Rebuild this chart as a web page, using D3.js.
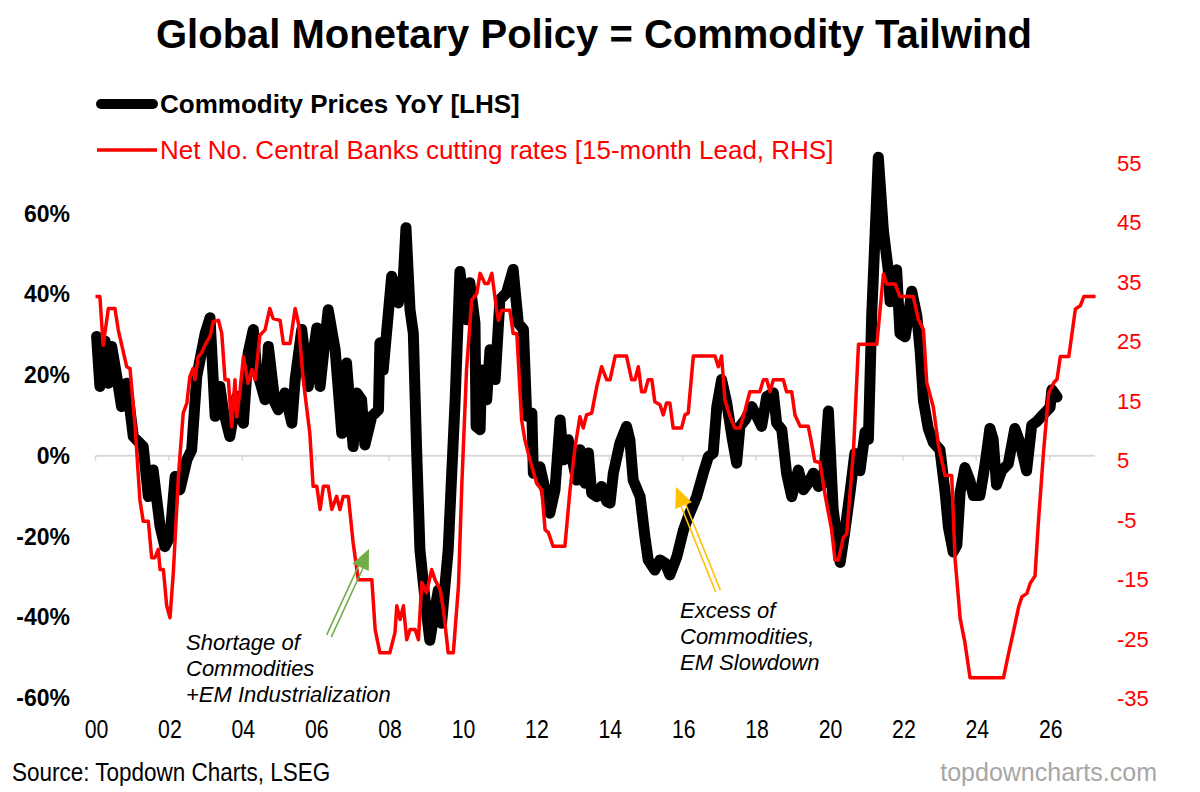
<!DOCTYPE html>
<html>
<head>
<meta charset="utf-8">
<script src="https://cdn.jsdelivr.net/npm/d3@7"></script>
<style>
  body { margin: 0; background: #fff; }
  svg text { font-family: "Liberation Sans", Arial, sans-serif; }
</style>
</head>
<body>
<svg id="chart" width="1200" height="792"></svg>
<script>
// Commodity prices YoY (%)
const blackYears = [2000.03,2000.12,2000.26,2000.35,2000.44,2000.58,2000.71,2000.85,2001.03,2001.30,2001.44,2001.57,2001.76,2001.89,2002.03,2002.17,2002.30,2002.49,2002.62,2002.76,2002.99,2003.12,2003.26,2003.39,2003.48,2003.66,2003.85,2004.03,2004.16,2004.30,2004.39,2004.62,2004.71,2004.89,2004.98,2005.16,2005.35,2005.44,2005.62,2005.80,2006.03,2006.12,2006.34,2006.53,2006.71,2006.84,2007.02,2007.12,2007.25,2007.34,2007.53,2007.71,2007.75,2007.84,2008.07,2008.25,2008.39,2008.46,2008.57,2008.66,2008.75,2008.84,2008.98,2009.11,2009.20,2009.34,2009.43,2009.61,2009.80,2009.93,2010.02,2010.11,2010.20,2010.34,2010.37,2010.48,2010.52,2010.66,2010.75,2010.89,2011.02,2011.20,2011.38,2011.52,2011.66,2011.75,2011.89,2011.93,2012.11,2012.25,2012.38,2012.52,2012.66,2012.75,2012.88,2013.11,2013.20,2013.34,2013.43,2013.52,2013.66,2013.79,2013.93,2014.02,2014.11,2014.29,2014.47,2014.56,2014.65,2014.84,2014.97,2015.06,2015.24,2015.38,2015.52,2015.65,2015.84,2016.02,2016.15,2016.38,2016.56,2016.70,2016.83,2016.93,2017.06,2017.20,2017.34,2017.47,2017.56,2017.70,2017.88,2018.02,2018.15,2018.29,2018.47,2018.56,2018.70,2018.83,2018.97,2019.15,2019.29,2019.42,2019.56,2019.70,2019.83,2019.97,2020.10,2020.29,2020.42,2020.56,2020.69,2020.83,2020.97,2021.06,2021.15,2021.33,2021.47,2021.60,2021.65,2021.83,2021.92,2022.06,2022.15,2022.24,2022.38,2022.47,2022.56,2022.69,2022.83,2023.01,2023.15,2023.24,2023.37,2023.47,2023.56,2023.69,2023.83,2023.92,2024.10,2024.24,2024.37,2024.46,2024.55,2024.69,2024.87,2025.05,2025.19,2025.37,2025.51,2025.65,2025.83,2026.01,2026.06,2026.20];
const blackValues = [29.6,17.2,28.4,18,27.1,19.7,12.2,18,4.8,2.3,-10.1,-3.5,-17.5,-22.5,-20,-5.1,-8.4,-1,1.5,19.7,30.4,34.2,9.8,17.2,11.4,4.8,14.7,8.1,25.5,31.3,21.3,13.9,27.1,13.1,11.4,15.6,8.1,18.9,31.3,17.2,31.7,17.2,36.2,26.3,5.6,23,2.3,15.6,13.9,2.7,9.8,11.4,28,21.3,44.5,37.9,44.5,56.5,36.2,30.4,1.5,-23.3,-35.7,-45.7,-40.7,-33.3,-41.5,-23.3,13.9,45.7,38.7,33.7,42.9,32.9,7.3,6.5,21.3,13.9,26.3,18.9,38.7,40.4,46.2,32.9,31.3,9.8,10.6,-4.3,-2.7,-8.4,-14.2,-8.4,8.9,-1,4,-6,1.5,-6.8,0.7,-9.3,-10.1,-7.6,-11.3,-11.7,-4.3,3.2,7.3,4,-6,-10.1,-20,-25.8,-28.3,-25.8,-26.6,-29.5,-25,-18.4,-15.1,-10.1,-4.3,-0.2,0.7,12.2,18.9,13.1,4.8,-1.8,7.3,8.9,12.2,9.8,7.3,14.7,15.6,8.1,6.5,-4.3,-10.1,-3.5,-8.4,-6.8,-4.3,-7.6,-6.8,11.1,-13.3,-26.4,-18.6,-9,0.6,-3.7,5.9,4.1,34.7,74,55.7,46.1,38.2,46.1,30.3,29.5,34.7,40.8,34.7,26,13.7,6.8,3.3,1.5,-9,-17.7,-23.8,-22.1,-9,-2.9,-6.3,-9.8,-9.8,-2,6.8,4.1,-7.2,-3.7,-2,6.8,3.3,-3.7,7.6,8.5,10.3,12,16.4,14.6];

// Net number of central banks cutting rates, 15-month lead
const redYears = [2000.00,2000.12,2000.21,2000.35,2000.53,2000.62,2000.85,2000.94,2001.08,2001.21,2001.30,2001.44,2001.53,2001.62,2001.71,2001.76,2001.85,2001.94,2002.03,2002.12,2002.26,2002.39,2002.49,2002.57,2002.66,2002.71,2002.80,2002.89,2002.98,2003.12,2003.21,2003.35,2003.44,2003.53,2003.62,2003.71,2003.80,2003.85,2003.94,2004.03,2004.16,2004.26,2004.35,2004.48,2004.62,2004.75,2004.84,2005.03,2005.12,2005.30,2005.44,2005.53,2005.66,2005.84,2005.93,2006.03,2006.12,2006.21,2006.34,2006.44,2006.57,2006.66,2006.75,2006.89,2007.02,2007.16,2007.53,2007.62,2007.75,2008.02,2008.16,2008.21,2008.30,2008.39,2008.48,2008.57,2008.71,2008.80,2008.89,2009.02,2009.16,2009.25,2009.39,2009.48,2009.61,2009.75,2009.89,2009.98,2010.11,2010.25,2010.39,2010.48,2010.61,2010.70,2010.80,2010.93,2010.98,2011.07,2011.29,2011.38,2011.48,2011.61,2011.70,2011.84,2012.02,2012.16,2012.25,2012.34,2012.47,2012.79,2012.93,2013.07,2013.20,2013.29,2013.38,2013.52,2013.66,2013.79,2013.93,2014.02,2014.16,2014.47,2014.61,2014.70,2014.79,2014.88,2014.97,2015.06,2015.16,2015.24,2015.38,2015.47,2015.56,2015.65,2015.74,2015.97,2016.06,2016.15,2016.29,2016.88,2016.97,2017.06,2017.15,2017.29,2017.42,2017.56,2017.70,2017.83,2018.10,2018.20,2018.29,2018.38,2018.47,2018.74,2018.83,2018.97,2019.06,2019.20,2019.42,2019.51,2019.60,2019.74,2019.88,2020.06,2020.15,2020.24,2020.38,2020.47,2020.65,2020.79,2021.29,2021.47,2021.56,2021.79,2021.92,2022.28,2022.42,2022.56,2022.65,2022.83,2022.97,2023.15,2023.33,2023.42,2023.56,2023.69,2023.83,2024.74,2024.88,2025.01,2025.15,2025.24,2025.38,2025.47,2025.60,2025.69,2025.83,2025.97,2026.11,2026.20,2026.29,2026.52,2026.70,2026.84,2026.93,2027.25];
const redValues = [32.5,32.5,24.3,30.5,30.5,26.9,20.7,20.4,10.6,-1.7,-5.3,-5.3,-11.4,-11.4,-10,-13.4,-13.4,-19.5,-21.5,-14,2.3,12.9,14.6,19,20.4,18.5,22.4,23,24.3,25.8,28.3,28.5,26.3,18.5,18.5,10.6,18.5,12.3,16.8,22.4,17.9,20.2,18.5,26,26.9,30.5,28.8,28.5,24.6,24.6,30.5,28,18.5,9.5,0.6,0.6,-3.3,0.6,0.6,-3.3,-1.1,-3.3,-1.1,-1.1,-8.9,-15.1,-15.1,-23.5,-27.4,-27.4,-24,-19.5,-21.8,-19.5,-25.2,-23.5,-23.5,-25.2,-15.6,-17.3,-13.4,-15.1,-16.8,-20.1,-27.4,-27.4,-16.2,0.6,20.2,31.9,33,36.4,34.7,34.7,36.4,30.2,28.5,30.2,30.2,26.3,26.3,11.8,8.4,5,1.1,0,-6.7,-7.2,-9.5,-9.5,0,7.3,12.3,10.4,12.6,12.9,17.4,20.7,18.5,18.5,22.5,22.5,18.5,18.5,20.7,16.5,16.5,18.5,18.5,14.8,14.3,12.6,14.6,14.6,10.4,10.4,12.6,12.9,22.5,22.5,20.7,22.5,15.1,12.3,10.4,10.4,13.4,16.5,16.5,18.5,18.5,16.5,18.5,18.5,16.5,16.5,12.6,10.7,10.7,7.9,4.8,4.6,-0.9,-6.8,-11.8,-11.8,-8,-7.4,6.2,24.5,24.5,36.3,34.6,34.6,32.5,32.5,28.7,26.9,18,13.9,7.4,2.4,2.4,-11.5,-21.6,-25.7,-31.6,-31.6,-27.5,-23.9,-19.8,-18,-17.4,-15.7,-14.5,-5.6,6.2,16.2,18,18.6,22.4,22.4,30.4,31,32.5,32.5];

const xTickYears = [2000,2002,2004,2006,2008,2010,2012,2014,2016,2018,2020,2022,2024,2026];
const leftTicks = [-60,-40,-20,0,20,40,60];
const rightTicks = [-35,-25,-15,-5,5,15,25,35,45,55];

const svg = d3.select("#chart");

let plotLeft = 95.5, plotRight = 1095, plotTop = 133, plotBottom = 698;

let x = d3.scaleLinear().domain([2000, 2026]).range([plotLeft, 1049.7]);
let yL = d3.scaleLinear().domain([-60, 80]).range([plotBottom, plotTop]);
let yR = d3.scaleLinear().domain([-35, 60]).range([plotBottom, plotTop]);

// title
svg.append("text")
    .attr("x", 594).attr("y", 48)
    .attr("text-anchor", "middle")
    .style("font-size", "40px").style("font-weight", "bold")
    .text("Global Monetary Policy = Commodity Tailwind");

// legend
svg.append("line").attr("x1", 101).attr("x2", 153).attr("y1", 104).attr("y2", 104)
    .attr("stroke", "#000").attr("stroke-width", 10).attr("stroke-linecap", "round");
svg.append("text").attr("x", 160).attr("y", 113)
    .style("font-size", "26px").style("font-weight", "bold")
    .text("Commodity Prices YoY [LHS]");
svg.append("line").attr("x1", 97).attr("x2", 157).attr("y1", 150).attr("y2", 150)
    .attr("stroke", "#ff0000").attr("stroke-width", 3.5);
svg.append("text").attr("x", 160).attr("y", 159)
    .attr("fill", "#ff0000")
    .style("font-size", "26px")
    .text("Net No. Central Banks cutting rates [15-month Lead, RHS]");

// zero line with tick marks
let xAxis = svg.append("g")
    .attr("transform", `translate(0,${yL(0)})`);
xAxis.append("line")
    .attr("x1", plotLeft).attr("x2", plotRight)
    .attr("stroke", "#d9d9d9").attr("stroke-width", 2);
xAxis.selectAll(".tk")
    .data(xTickYears)
    .enter().append("line")
    .attr("x1", d => x(d)).attr("x2", d => x(d))
    .attr("y1", 0).attr("y2", 5)
    .attr("stroke", "#d9d9d9").attr("stroke-width", 1.5);

// x labels at the bottom (narrow look)
svg.append("g").selectAll("text")
    .data(xTickYears)
    .enter().append("text")
    .attr("transform", d => `translate(${x(d) + 1},738) scale(0.85,1)`)
    .attr("text-anchor", "middle")
    .style("font-size", "25px")
    .text(d => String(d % 100).padStart(2, "0"));

// left labels
svg.append("g").selectAll("text")
    .data(leftTicks)
    .enter().append("text")
    .attr("x", 70).attr("y", d => yL(d) + 8)
    .attr("text-anchor", "end")
    .style("font-size", "23px").style("font-weight", "bold")
    .text(d => d + "%");

// right labels
svg.append("g").selectAll("text")
    .data(rightTicks)
    .enter().append("text")
    .attr("x", 1117).attr("y", d => yR(d) + 8)
    .attr("fill", "#ff0000")
    .style("font-size", "22px")
    .text(d => d);

// lines
let blackData = blackYears.map((d, i) => [d, blackValues[i]]);
let redData = redYears.map((d, i) => [d, redValues[i]]);

svg.append("path")
    .datum(blackData)
    .attr("fill", "none")
    .attr("stroke", "#000")
    .attr("stroke-width", 11)
    .attr("stroke-linejoin", "round")
    .attr("stroke-linecap", "round")
    .attr("d", d3.line().x(d => x(d[0])).y(d => yL(d[1])));

svg.append("path")
    .datum(redData)
    .attr("fill", "none")
    .attr("stroke", "#ff0000")
    .attr("stroke-width", 3.5)
    .attr("stroke-linejoin", "round")
    .attr("d", d3.line().x(d => x(d[0])).y(d => yR(d[1])));

// arrows: two thin parallel shafts + filled head
function arrow(x0, y0, x1, y1, color) {
    let dx = x1 - x0, dy = y1 - y0;
    let len = Math.sqrt(dx * dx + dy * dy);
    let ux = dx / len, uy = dy / len;
    let px = -uy, py = ux;
    let headLen = 20, headW = 9, gap = 2.5;
    let bx = x1 - ux * headLen, by = y1 - uy * headLen;
    let g = svg.append("g");
    [-gap, gap].forEach(o => {
        g.append("line")
            .attr("x1", x0 + px * o).attr("y1", y0 + py * o)
            .attr("x2", bx + px * o).attr("y2", by + py * o)
            .attr("stroke", color).attr("stroke-width", 1.6);
    });
    g.append("path")
        .attr("d", `M${x1},${y1}L${bx + px * headW},${by + py * headW}L${bx - px * headW},${by - py * headW}Z`)
        .attr("fill", color);
}
arrow(329, 636, 369, 549, "#70ad47");
arrow(718, 591, 676, 487, "#ffc000");

// annotations
function note(xp, yp, lines) {
    let t = svg.append("text")
        .attr("x", xp).attr("y", yp)
        .style("font-size", "22px").style("font-style", "italic");
    lines.forEach((l, i) => {
        t.append("tspan").attr("x", xp).attr("dy", i ? 26 : 0).text(l);
    });
}
note(186, 650, ["Shortage of", "Commodities", "+EM Industrialization"]);
note(680, 618, ["Excess of", "Commodities,", "EM Slowdown"]);

// footer
svg.append("text")
    .attr("transform", "translate(12,781) scale(0.9,1)")
    .style("font-size", "25px")
    .text("Source: Topdown Charts, LSEG");
svg.append("text").attr("x", 1157).attr("y", 781)
    .attr("text-anchor", "end")
    .attr("fill", "#a6a6a6")
    .style("font-size", "25px")
    .text("topdowncharts.com");
</script>
</body>
</html>
